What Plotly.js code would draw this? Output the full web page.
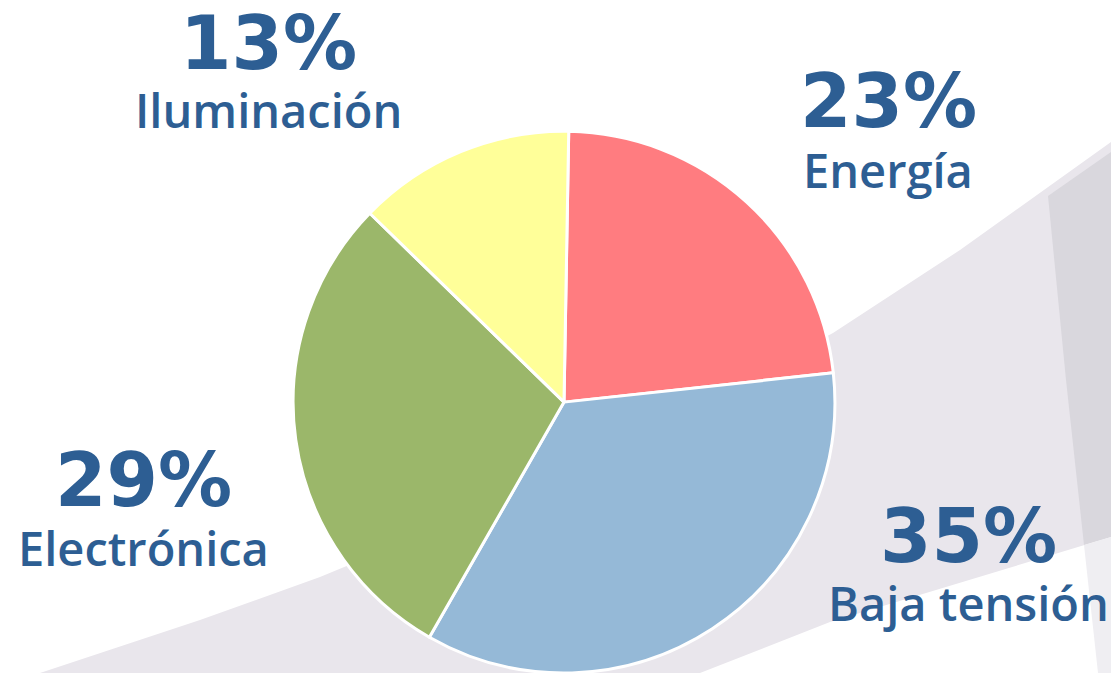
<!DOCTYPE html>
<html>
<head>
<meta charset="utf-8">
<script src="https://cdn.plot.ly/plotly-3.0.1.min.js"></script>
<style>
  html, body { margin: 0; padding: 0; background: #ffffff; }
  #chart { width: 1111px; height: 673px; }
</style>
</head>
<body>
<div id="chart"></div>
<script>
// ---- data ----
const categories = ['Energía', 'Baja tensión', 'Electrónica', 'Iluminación'];
const values = [23, 35, 29, 13];
const percentLabels = ['23%', '35%', '29%', '13%'];

// ---- styling ----
const sliceColors = ['#FF7C80', '#95B9D7', '#9BB76A', '#FFFF99'];
const textColor = '#2D5E93';
const W = 1111, H = 673;

// label placement in pixels: [centerX, percent cap-center Y, name cap-center Y]
const labelPos = [
  [888, 100, 171],
  [968, 535, 604],
  [143, 479, 549],
  [268, 42, 111]
];

function px(x) { return x / W; }
function py(y) { return 1 - y / H; }
function path(points) {
  return 'M ' + points.map(p => px(p[0]).toFixed(5) + ',' + py(p[1]).toFixed(5)).join(' L ') + ' Z';
}

const shapes = [
  { type: 'path', xref: 'paper', yref: 'paper', layer: 'below', line: { width: 0 },
    fillcolor: '#E9E6EC',
    path: path([[40,673],[200,620],[320,577],[470,515],[600,453],[720,393],[833,333],[960,250],[1111,142],[1111,537],[830,622],[700,673]]) },
  { type: 'path', xref: 'paper', yref: 'paper', layer: 'below', line: { width: 0 },
    fillcolor: '#D9D7DD',
    path: path([[1048,196],[1111,152],[1111,537],[1084,545],[1066,380]]) },
  { type: 'path', xref: 'paper', yref: 'paper', layer: 'below', line: { width: 0 },
    fillcolor: '#EFEEF2',
    path: path([[1084,545],[1111,537],[1111,673],[1098,673]]) }
];

const annotations = [];
categories.forEach((c, i) => {
  const p = labelPos[i];
  annotations.push({
    xref: 'paper', yref: 'paper', x: px(p[0]), y: py(p[1] + 1),
    xanchor: 'center', yanchor: 'middle', showarrow: false,
    text: percentLabels[i],
    font: { family: 'DejaVu Sans, Verdana, sans-serif', size: 74, color: textColor, weight: 'bold' }
  });
  annotations.push({
    xref: 'paper', yref: 'paper', x: px(p[0]), y: py(p[2] - 1),
    xanchor: 'center', yanchor: 'middle', showarrow: false,
    text: c,
    font: { family: 'Open Sans, Lato, sans-serif', size: 47, color: textColor, weight: 600 }
  });
});

const trace = {
  type: 'pie',
  labels: categories,
  values: values,
  sort: false,
  direction: 'clockwise',
  rotation: 1,
  textinfo: 'none',
  hoverinfo: 'none',
  showlegend: false,
  marker: { colors: sliceColors, line: { color: '#ffffff', width: 3 } },
  domain: { x: [0.2628, 0.7525], y: [0, 0.805] }
};

const layout = {
  width: W, height: H,
  margin: { l: 0, r: 0, t: 0, b: 0, pad: 0 },
  paper_bgcolor: '#ffffff',
  plot_bgcolor: '#ffffff',
  showlegend: false,
  shapes: shapes,
  annotations: annotations
};

Plotly.newPlot('chart', [trace], layout, { displayModeBar: false, staticPlot: true });
</script>
</body>
</html>
